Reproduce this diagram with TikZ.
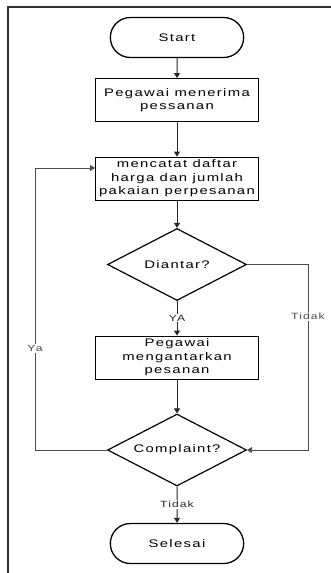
\documentclass[tikz,border=0pt]{standalone}
\usepackage{fontspec}
\setmainfont{Liberation Sans}[FakeStretch=1.35,LetterSpace=12]
\usetikzlibrary{positioning,shapes.geometric,shapes.misc,arrows.meta}

\begin{document}
\begin{tikzpicture}%
		[>={Triangle[length=5pt,width=6pt]},
		x=1pt, y=1pt,
		node distance=90pt,
		on grid,
		font=\fontsize{11}{13.5}\selectfont
		]
		\tikzstyle{term}=[rounded rectangle, draw, line width=1.3pt, minimum width=140pt, minimum height=40pt]
		\tikzstyle{proc}=[rectangle, draw, line width=0.9pt, minimum width=163pt, minimum height=43pt, align=center, inner sep=2pt]
		\tikzstyle{cond}=[diamond, draw, line width=1.2pt, aspect=1.93, minimum width=139pt, minimum height=72pt, inner sep=0pt]
		\tikzstyle{lbl}=[fill=white, font=\fontsize{9}{10}\selectfont, inner sep=1pt]
		\tikzstyle{flow}=[line width=1pt, black!85]
		\tikzstyle{back}=[line width=0.8pt, black!70]
		
		\useasboundingbox (0,0) rectangle (331,-573);
		\draw[line width=1.6pt, black!80] (8,-573) -- (8,-7) -- (331,-7);
		
		\node[term] (Start) at (177,-37.5)            {Start};
		\node[proc] (Terima) [below=62.5pt of Start]  {Pegawai menerima\\pessanan};
		\node[proc] (Catat) [below=78.5pt of Terima]  {mencatat daftar\\harga dan jumlah\\pakaian perpesanan};
		\node[cond] (Antar) [below=86pt of Catat]     {Diantar?};
		\node[proc] (Kirim) [below=93pt of Antar]     {Pegawai\\mengantarkan\\pesanan};
		\node[cond] (Cek) [below=92.5pt of Kirim]     {Complaint?};
		\node[term] (Selesai) [below=93.5pt of Cek]   {Selesai};
		
		\coordinate (TidakSudut) at (308,0);
		\coordinate (YaSudut) at (35,0);
		\coordinate (YaMasuk) at ([yshift=10.5pt]Catat.west);
		
		\path[->, flow]
		%   FROM      LABEL                       TO
		(Start) edge                                   (Terima)
		(Terima) edge                                  (Catat)
		(Catat) edge                                   (Antar)
		(Antar) edge  node[lbl] {YA}                   (Kirim)
		(Kirim) edge                                   (Cek)
		(Cek) edge    node[lbl] {Tidak}                (Selesai)
		;
		\draw[->, back] (Antar.east) -| node[lbl, pos=0.64] {Tidak} (TidakSudut |- Cek.east) -- (Cek.east);
		\draw[->, back] (Cek.west) -| node[lbl, pos=0.68] {Ya} (YaSudut |- YaMasuk) -- (YaMasuk);
		\end{tikzpicture}
\end{document}
